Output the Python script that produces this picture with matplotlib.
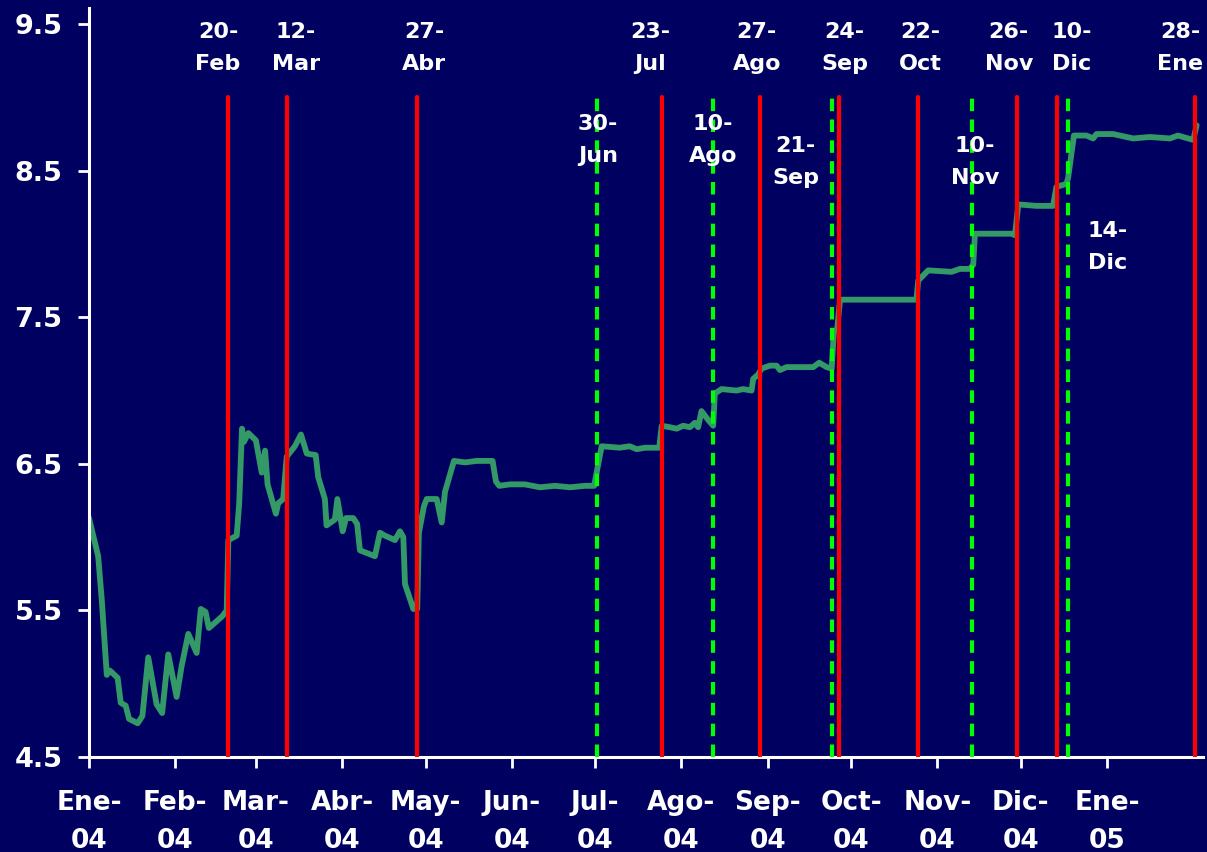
import matplotlib
matplotlib.use('Agg')
import matplotlib.pyplot as plt
import pandas as pd

plt.rcParams['font.family'] = ['DejaVu Sans']
plt.rcParams['font.weight'] = 'bold'

# dias contados desde el 1-ene-2004 y nivel de la serie
dias = [0, 3.3, 4.6, 6.4, 7.5, 10.3, 11.4, 13.2, 14.4, 17.5,
        19.2, 21.3, 24.3, 26.3, 28.5, 31.5, 33.3, 35.7, 38.7, 40.2,
        41.9, 43.1, 47.9, 49.5, 50.1, 53.1, 54.0, 55.0, 55.7, 57.3,
        60.0, 62.1, 63.3, 64.2, 67.2, 68.0, 69.8, 71.1, 74.0, 76.2,
        78.3, 81.5, 82.4, 84.8, 85.4, 88.4, 89.3, 91.2, 92.4, 95.0,
        96.4, 97.4, 102.8, 104.6, 106.4, 110.0, 111.8, 113.0, 113.6, 116.6,
        118.0, 118.6, 120.4, 121.4, 125.0, 126.8, 128.0, 131.2, 135.2, 139.4,
        145.1, 146.3, 147.5, 151.3, 156.7, 162.1, 167.5, 172.9, 178.3, 181.6,
        184.3, 190.8, 194.4, 196.9, 199.9, 205.0, 205.9, 208.8, 211.3, 213.6,
        216.0, 217.8, 219.0, 220.2, 222.6, 224.4, 225.0, 227.4, 232.8, 235.2,
        238.2, 238.8, 240.6, 241.8, 244.8, 247.2, 248.4, 250.8, 260.4, 262.5,
        265.2, 267.0, 267.8, 269.0, 270.0, 276.0, 286.7, 297.5, 298.1, 301.7,
        310.1, 313.1, 316.7, 317.9, 318.5, 320.3, 331.7, 332.9, 334.1, 340.6,
        346.6, 347.8, 351.4, 352.0, 354.1, 358.6, 361.0, 362.2, 368.2, 375.4,
        381.4, 388.6, 391.5, 397.0, 398.2]
valores = [6.13, 5.87, 5.57, 5.06, 5.09, 5.04, 4.87, 4.85, 4.76, 4.73,
           4.78, 5.18, 4.86, 4.80, 5.20, 4.91, 5.12, 5.34, 5.21, 5.51,
           5.49, 5.38, 5.46, 5.50, 5.98, 6.01, 6.23, 6.74, 6.65, 6.71,
           6.66, 6.44, 6.59, 6.36, 6.16, 6.23, 6.26, 6.55, 6.62, 6.70,
           6.57, 6.56, 6.41, 6.26, 6.08, 6.12, 6.26, 6.04, 6.13, 6.13,
           6.09, 5.91, 5.87, 6.03, 6.01, 5.98, 6.04, 6.00, 5.68, 5.51,
           5.51, 6.03, 6.21, 6.26, 6.26, 6.10, 6.31, 6.52, 6.51, 6.52,
           6.52, 6.38, 6.35, 6.36, 6.36, 6.34, 6.35, 6.34, 6.35, 6.35,
           6.62, 6.61, 6.62, 6.60, 6.61, 6.61, 6.76, 6.75, 6.74, 6.76,
           6.75, 6.78, 6.75, 6.86, 6.80, 6.76, 6.98, 7.01, 7.00, 7.01,
           7.00, 7.08, 7.11, 7.15, 7.17, 7.17, 7.14, 7.16, 7.16, 7.19,
           7.16, 7.15, 7.40, 7.42, 7.62, 7.62, 7.62, 7.62, 7.75, 7.82,
           7.81, 7.83, 7.83, 7.86, 8.07, 8.07, 8.07, 8.06, 8.27, 8.26,
           8.26, 8.39, 8.41, 8.45, 8.74, 8.74, 8.72, 8.75, 8.75, 8.72,
           8.73, 8.72, 8.74, 8.71, 8.81]

meses = ['Ene-\n04', 'Feb-\n04', 'Mar-\n04', 'Abr-\n04', 'May-\n04', 'Jun-\n04',
         'Jul-\n04', 'Ago-\n04', 'Sep-\n04', 'Oct-\n04', 'Nov-\n04', 'Dic-\n04',
         'Ene-\n05']

# fechas marcadas con linea roja
rojo_dias = [49.8, 71.1, 117.8, 205.9, 241.2, 269.7, 298.1, 333.5, 348.1, 397.6]
rojo_textos = ['20-\nFeb', '12-\nMar', '27-\nAbr', '23-\nJul', '27-\nAgo',
               '24-\nSep', '22-\nOct', '26-\nNov', '10-\nDic', '28-\nEne']
# fechas marcadas con linea verde punteada
verde_dias = [182.8, 224.4, 267.0, 317.6, 352.0]
verde_textos = ['30-\nJun', '10-\nAgo', '21-\nSep', '10-\nNov', '14-\nDic']

fondo = '#000060'
fig = plt.figure(figsize=(12.07, 8.52), dpi=100, facecolor=fondo)
ax = fig.add_axes([89 / 1207, 95 / 852, 1114 / 1207, 749 / 852])
ax.set_facecolor(fondo)

ax.plot(dias, valores, color='#339966', lw=4.2, solid_joinstyle='round',
        solid_capstyle='round', zorder=2)

for d in rojo_dias:
    ax.plot([d, d], [4.5, 9.0], color='red', lw=3, solid_capstyle='round', zorder=3)
for d in verde_dias:
    ax.plot([d, d], [4.5, 9.0], color='#00FF00', lw=3, linestyle=(0, (3, 2)), zorder=3)

# etiquetas de las fechas
rojo_tx = [46.4, 74.4, 120.4, 201.7, 240.1, 271.7, 298.7, 330.7, 353.3, 392.2]
for x, t in zip(rojo_tx, rojo_textos):
    ax.text(x, 9.34, t, color='white', fontsize=16, fontweight='bold',
            ha='center', va='center', linespacing=1.75, clip_on=False)
verde_tx = [183, 224.3, 254, 318.5, 366.3]
verde_ty = [8.71, 8.71, 8.56, 8.56, 7.98]
for x, y, t in zip(verde_tx, verde_ty, verde_textos):
    ax.text(x, y, t, color='white', fontsize=16, fontweight='bold',
            ha='center', va='center', linespacing=1.75)

base = pd.Timestamp('2004-01-01')
ticks = [(m - base).days for m in pd.date_range('2004-01-01', '2005-01-01', freq='MS')]
ax.set_xticks(ticks)
ax.set_xticklabels(meses, linespacing=1.6)
ax.set_yticks([4.5, 5.5, 6.5, 7.5, 8.5, 9.5])
ax.set_yticklabels(['4.5', '5.5', '6.5', '7.5', '8.5', '9.5'])
ax.set_xlim(0, 400.5)
ax.set_ylim(4.5, 9.61)

for s in ['top', 'right']:
    ax.spines[s].set_visible(False)
for s in ['left', 'bottom']:
    ax.spines[s].set_color('white')
    ax.spines[s].set_linewidth(2.2)
ax.tick_params(axis='x', colors='white', length=8, width=2, labelsize=19, pad=16)
ax.tick_params(axis='y', colors='white', length=8, width=2, labelsize=19.5, pad=11)
for lab in ax.get_xticklabels() + ax.get_yticklabels():
    lab.set_fontweight('bold')

fig.savefig('out.png', dpi=100, facecolor=fondo)
